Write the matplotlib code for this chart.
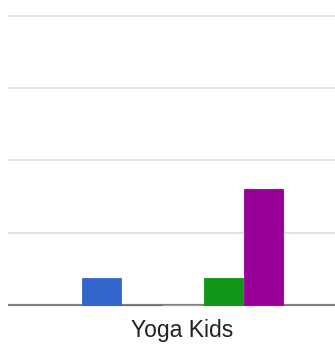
"""
Grouped bar chart: enrolment counts per class, one bar per series.
"""

import matplotlib.pyplot as plt
import matplotlib.transforms as mtransforms
import numpy as np

categories = ["Yoga Kids"]
series_names = ["Series 1", "Series 2", "Series 3", "Series 4", "Series 5"]
series_values = [
    [1.85],
    [0.0],
    [0.0],
    [1.85],
    [8.0],
]
y_ticks = [0, 5, 10, 15, 20]

colors = ["#3366cc", "#dc3912", "#ff9900", "#109618", "#990099"]

W, H = 335, 347
DPI = 100
fig = plt.figure(figsize=(W / DPI, H / DPI), dpi=DPI)

# plot area in pixels (from top-left); right side runs off the canvas
left_px, right_px = 8, 335
base_px, top_val_px = 305.0, 15.7
px_per_unit = (base_px - top_val_px) / y_ticks[-1]
ax_top_px = 8
ax_bot_px = 309
ax = fig.add_axes([
    left_px / W,
    (H - ax_bot_px) / H,
    (right_px - left_px) / W,
    (ax_bot_px - ax_top_px) / H,
])
ax.set_ylim(-(ax_bot_px - base_px) / px_per_unit, (base_px - ax_top_px) / px_per_unit)

x = np.arange(len(categories))
n = len(series_values)
pitch = 0.12
width = pitch * 0.96
group_center_px = 182.5
px_per_x = (n * pitch) / 203.0
ax.set_xlim(-(group_center_px - left_px) * px_per_x, (right_px - group_center_px) * px_per_x)

for i, vals in enumerate(series_values):
    offset = (i - n / 2 + 0.5) * pitch
    ax.bar(x + offset, vals, width=width, color=colors[i], label=series_names[i],
           edgecolor=colors[i], linewidth=0.6, zorder=3)

for t in y_ticks[1:]:
    ax.axhline(t, color="#dadada", linewidth=1.1, zorder=1)
ax.axhline(0, color="#808080", linewidth=1.6, zorder=2)

for s in ax.spines.values():
    s.set_visible(False)
ax.set_xticks([])
ax.set_yticks([])

trans = mtransforms.blended_transform_factory(ax.transData, fig.transFigure)
for xi, name in zip(x, categories):
    ax.text(xi, (H - 337.5) / H, name, transform=trans, ha="center", va="baseline",
            fontsize=16.5, color="#222222", family=["Liberation Sans", "DejaVu Sans"])

fig.savefig("out.png", dpi=DPI)
